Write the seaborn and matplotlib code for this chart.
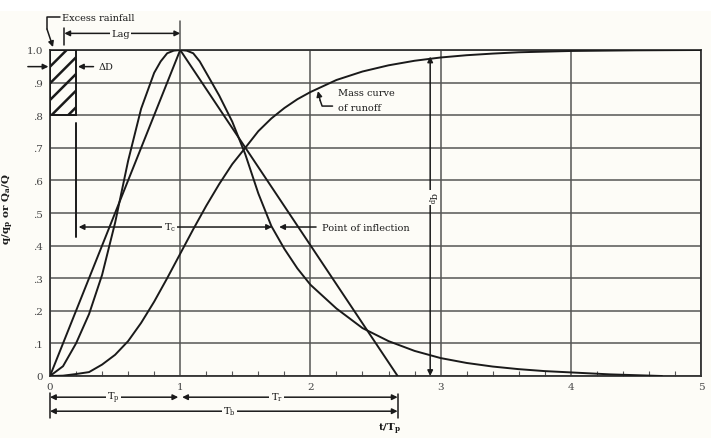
import matplotlib
matplotlib.use("Agg")
import matplotlib.pyplot as plt
import seaborn as sns
import numpy as np
import pandas as pd
from matplotlib.patches import Rectangle

# ---- data ----
t_curve = [0, 0.1, 0.2, 0.3, 0.4, 0.5, 0.6, 0.7, 0.8, 0.85, 0.9, 0.95, 1.0, 1.05, 1.1, 1.15, 1.2, 1.3, 1.4, 1.5,
           1.6, 1.7, 1.8, 1.9, 2.0, 2.2, 2.4, 2.6, 2.8, 3.0, 3.2, 3.4, 3.6, 3.8, 4.0, 4.3, 4.7]
q_curve = [0, 0.03, 0.10, 0.19, 0.31, 0.47, 0.66, 0.82, 0.93, 0.965, 0.99, 0.998, 1.00, 0.998, 0.99, 0.965, 0.93, 0.86, 0.78, 0.68,
           0.56, 0.46, 0.39, 0.33, 0.28, 0.207, 0.147, 0.107, 0.077, 0.055, 0.040, 0.029, 0.021, 0.015, 0.011, 0.005, 0.0]
t_mass = [0, 0.1, 0.2, 0.3, 0.4, 0.5, 0.6, 0.7, 0.8, 0.9, 1.0, 1.1, 1.2, 1.3, 1.4, 1.5, 1.6,
          1.7, 1.8, 1.9, 2.0, 2.2, 2.4, 2.6, 2.8, 3.0, 3.2, 3.4, 3.6, 3.8, 4.0, 4.5, 5.0]
q_mass = [0, 0.001, 0.006, 0.012, 0.035, 0.065, 0.107, 0.163, 0.228, 0.300, 0.375, 0.450, 0.522,
          0.589, 0.650, 0.700, 0.751, 0.790, 0.822, 0.849, 0.871, 0.908, 0.934, 0.953, 0.967, 0.977,
          0.984, 0.989, 0.993, 0.995, 0.997, 0.999, 1.000]
t_tri = [0, 1.0, 2.67]
q_tri = [0, 1.0, 0]
x_ticks = [0, 1, 2, 3, 4, 5]
y_ticks = [0, 0.1, 0.2, 0.3, 0.4, 0.5, 0.6, 0.7, 0.8, 0.9, 1.0]
y_ticklabels = ["0", ".1", ".2", ".3", ".4", ".5", ".6", ".7", ".8", ".9", "1.0"]

BG = "#fdfcf7"
INK = "#1a1a1a"
GRID = "#555555"

sns.set_theme(style="white")
plt.rcParams["font.family"] = ["DejaVu Serif"]
plt.rcParams["mathtext.fontset"] = "dejavuserif"
plt.rcParams["hatch.linewidth"] = 1.8
plt.rcParams["hatch.color"] = INK

fig = plt.figure(figsize=(7.11, 4.39), dpi=100, facecolor=BG)
fig.add_artist(Rectangle((0, 1 - 12 / 439), 1, 12 / 439, transform=fig.transFigure,
                         facecolor="white", edgecolor="none", zorder=-5))
ax = fig.add_axes([50 / 711, 1 - 377 / 439, 651 / 711, 326 / 439])
ax.set_facecolor(BG)

df_c = pd.DataFrame({"t": t_curve, "q": q_curve})
df_m = pd.DataFrame({"t": t_mass, "q": q_mass})
df_t = pd.DataFrame({"t": t_tri, "q": q_tri})
for d in (df_c, df_m, df_t):
    sns.lineplot(data=d, x="t", y="q", ax=ax, color=INK, lw=1.4, sort=False, zorder=4)

ax.set_xlim(0, 5)
ax.set_ylim(0, 1.0)
ax.set_xticks(x_ticks)
ax.set_xticklabels([str(v) for v in x_ticks])
ax.set_yticks(y_ticks)
ax.set_yticklabels(y_ticklabels)
ax.set_xticks(np.arange(0.2, 5.0, 0.2), minor=True)
ax.tick_params(axis="x", which="major", length=0, pad=4, labelsize=7.5, colors="#444444")
ax.tick_params(axis="y", which="major", length=0, pad=5, labelsize=7.5, colors="#444444")
ax.tick_params(axis="x", which="minor", direction="in", length=3.5, width=0.8, color=GRID, bottom=True)
ax.grid(True, which="major", color=GRID, lw=1.1)
for s in ax.spines.values():
    s.set_visible(True)
    s.set_color("#333333")
    s.set_linewidth(1.3)

ax.set_xlabel("")
ax.text(2.61, -0.16, r"t/T$_\mathbf{p}$", fontsize=7.5, fontweight="bold", color=INK,
        ha="center", va="center", clip_on=False)
ax.set_ylabel(r"q/q$_\mathbf{p}$ or Q$_\mathbf{a}$/Q", fontsize=7.5, fontweight="bold", color=INK)
ax.yaxis.set_label_coords(-0.052, 0.516)

aprops = dict(arrowstyle="-|>", color=INK, lw=1.1, mutation_scale=8, shrinkA=0, shrinkB=0)
dprops = dict(arrowstyle="<|-|>", color=INK, lw=1.1, mutation_scale=8, shrinkA=0, shrinkB=0)
bb = dict(facecolor=BG, edgecolor="none", pad=1.0)
fs = 7

# hatched excess rainfall block
ax.add_patch(Rectangle((0, 0.8), 0.2, 0.2, fill=False, hatch="//", lw=1.4, ec=INK, zorder=3))

# Excess rainfall label + leader
ax.text(0.092, 1.101, "Excess rainfall", fontsize=fs, ha="left", va="center", color=INK, clip_on=False)
ax.plot([0.077, -0.023, -0.023], [1.101, 1.101, 1.064], color=INK, lw=1.1, clip_on=False)
ax.annotate("", xy=(0.023, 1.009), xytext=(-0.023, 1.064), arrowprops=aprops, annotation_clip=False)

# Lag
ax.plot([0.11, 0.11], [1.014, 1.067], color=INK, lw=1.1, clip_on=False)
ax.plot([1.0, 1.0], [1.0, 1.088], color=GRID, lw=1.1, clip_on=False)
ax.annotate("", xy=(0.11, 1.051), xytext=(1.0, 1.051), arrowprops=dprops, annotation_clip=False)
ax.text(0.54, 1.051, "Lag", fontsize=fs, ha="center", va="center", color=INK, bbox=bb, clip_on=False)

# Delta D
ax.annotate("", xy=(-0.012, 0.949), xytext=(-0.17, 0.949), arrowprops=aprops, annotation_clip=False)
ax.annotate("ΔD", xy=(0.215, 0.949), xytext=(0.37, 0.949), fontsize=fs, ha="left", va="center",
            color=INK, arrowprops=dict(aprops, shrinkA=1), annotation_clip=False)

# Tc
ax.plot([0.2, 0.2], [0.425, 0.775], color=INK, lw=1.4)
ax.annotate("", xy=(0.22, 0.457), xytext=(1.705, 0.457), arrowprops=dprops, zorder=5)
ax.text(0.92, 0.457, r"T$_\mathrm{c}$", fontsize=fs, ha="center", va="center", color=INK, bbox=bb, zorder=6)
ax.annotate("Point of inflection", xy=(1.76, 0.457), xytext=(2.09, 0.457), fontsize=fs,
            ha="left", va="center", color=INK, arrowprops=dict(aprops, shrinkA=2), zorder=6)

# qp
ax.annotate("", xy=(2.92, 0.98), xytext=(2.92, 0.0), arrowprops=dprops, zorder=5)
ax.text(2.92, 0.548, r"q$_\mathrm{p}$", fontsize=fs, ha="center", va="center", rotation=-90,
        color=INK, bbox=bb, zorder=6)

# Mass curve label
ax.text(2.21, 0.871, "Mass curve", fontsize=fs, ha="left", va="center", color=INK, zorder=6)
ax.text(2.21, 0.825, "of runoff", fontsize=fs, ha="left", va="center", color=INK, zorder=6)
ax.plot([2.17, 2.09, 2.075], [0.828, 0.828, 0.845], color=INK, lw=1.1, zorder=5)
ax.annotate("", xy=(2.058, 0.874), xytext=(2.075, 0.845), arrowprops=aprops, zorder=5)

# bottom dimension lines
ax.plot([0, 0], [-0.051, -0.128], color=INK, lw=1.1, clip_on=False)
ax.plot([2.67, 2.67], [-0.056, -0.128], color=INK, lw=1.1, clip_on=False)
ax.annotate("", xy=(0.0, -0.065), xytext=(0.985, -0.065), arrowprops=dprops, annotation_clip=False)
ax.annotate("", xy=(1.015, -0.065), xytext=(2.67, -0.065), arrowprops=dprops, annotation_clip=False)
ax.annotate("", xy=(0.0, -0.108), xytext=(2.67, -0.108), arrowprops=dprops, annotation_clip=False)
ax.text(0.485, -0.065, r"T$_\mathrm{p}$", fontsize=fs, ha="center", va="center", color=INK, bbox=bb, clip_on=False)
ax.text(1.74, -0.065, r"T$_\mathrm{r}$", fontsize=fs, ha="center", va="center", color=INK, bbox=bb, clip_on=False)
ax.text(1.38, -0.108, r"T$_\mathrm{b}$", fontsize=fs, ha="center", va="center", color=INK, bbox=bb, clip_on=False)

fig.savefig("out.png", dpi=100, facecolor=BG)
